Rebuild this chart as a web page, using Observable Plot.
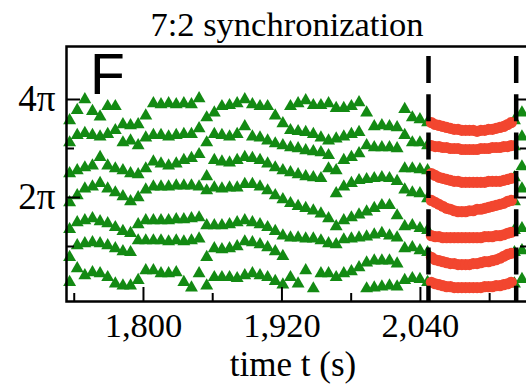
<!DOCTYPE html>
<html><head><meta charset="utf-8">
<script src="https://cdn.jsdelivr.net/npm/d3@7"></script>
<script src="https://cdn.jsdelivr.net/npm/@observablehq/plot@0.6"></script>
<style>html,body{margin:0;padding:0;overflow:hidden;background:#fff;width:526px;height:384px}svg{max-width:none !important}</style>
</head><body><div id="chart"></div>
<script>
const title = "7:2 synchronization";
const panelLetter = "F";
const xLabel = "time t (s)";
const xMajorTicks = [1800, 1920, 2040];
const xMinorTicks = [1740, 1860, 1980, 2100];
const yMajorTicks = [2, 4];      // phase in units of π
const yMinorTicks = [1, 3];
const syncWindow = [2047, 2123]; // dashed boundaries (s)

// green triangles: 7 phase bands (units of π), sampled from 1736 s every 6.6 s, plus two late samples
const greenStart = 1736, greenStep = 6.6;
const greenLateTimes = [2121.5, 2128];
const green1 = [3.57,3.78,4.00,3.76,3.65,3.86,3.86,3.49,3.47,3.49,3.67,3.92,3.90,3.92,3.90,3.92,3.90,4.02,3.63,3.73,3.86,3.88,3.92,4.00,3.90,3.86,3.86,3.67,3.51,3.86,3.92,3.98,3.88,3.88,3.92,3.82,3.82,3.86,3.94,3.73,3.45,3.47,3.45,3.43,3.80,3.63,3.59,3.53, 3.57,3.73];
const green2 = [3.12,3.27,3.31,3.27,3.24,3.29,3.37,3.12,3.16,3.06,3.22,3.27,3.27,3.24,3.27,3.29,3.29,3.41,3.12,3.29,3.27,3.24,3.29,3.45,3.24,3.22,3.16,3.10,3.06,3.37,3.35,3.33,3.29,3.22,3.16,3.20,3.24,3.29,3.33,3.06,3.02,3.02,3.02,3.00,3.27,3.12,3.12,3.06, 3.04,3.24];
const green3 = [2.49,2.55,2.61,2.65,2.82,2.65,2.59,2.55,2.49,2.47,2.59,2.73,2.69,2.65,2.69,2.76,2.80,2.88,2.43,2.76,2.73,2.71,2.76,2.82,2.80,2.76,2.69,2.61,2.55,3.02,3.00,2.96,2.94,2.92,2.86,2.55,2.76,2.82,2.90,2.37,2.39,2.41,2.39,2.33,2.59,2.59,2.57,2.55, 2.41,2.63];
const green4 = [1.90,2.04,2.18,2.22,2.29,2.18,2.10,2.02,1.92,2.00,2.16,2.22,2.22,2.22,2.24,2.24,2.24,2.22,2.14,2.20,2.18,2.20,2.20,2.27,2.27,2.22,2.14,2.04,1.96,2.51,2.47,2.43,2.41,2.39,2.59,2.08,2.22,2.29,2.35,1.71,1.78,1.84,1.84,1.63,2.16,2.10,2.08,1.98, 1.92,2.18];
const green5 = [1.35,1.49,1.53,1.57,1.51,1.47,1.39,1.31,1.27,1.45,1.53,1.53,1.53,1.53,1.55,1.55,1.57,1.59,1.43,1.43,1.43,1.45,1.49,1.53,1.49,1.45,1.39,1.31,1.22,1.88,1.82,1.78,1.73,1.67,1.57,1.41,1.53,1.59,1.65,1.20,1.24,1.27,1.22,1.18,1.41,1.43,1.37,1.33, 1.33,1.37];
const green6 = [0.78,1.02,1.06,1.08,1.06,1.02,0.96,0.90,0.88,1.12,1.12,1.12,1.12,1.10,1.12,1.10,1.12,1.16,0.78,0.96,0.94,0.96,1.00,1.10,1.08,1.04,0.98,0.90,0.80,1.18,1.18,1.16,1.16,1.12,1.06,1.04,1.14,1.16,1.18,0.67,0.71,0.71,0.71,0.65,0.96,0.98,0.92,0.88, 0.88,0.92];
const green7 = [0.27,0.55,0.41,0.47,0.45,0.37,0.24,0.20,0.20,0.31,0.51,0.51,0.45,0.45,0.47,0.27,0.16,0.45,0.20,0.37,0.37,0.37,0.35,0.41,0.45,0.41,0.37,0.29,0.22,0.37,0.24,0.51,0.14,0.45,0.45,0.37,0.45,0.49,0.57,0.14,0.16,0.18,0.20,0.18,0.31,0.35,0.33,0.27, 0.24,0.33];

// red circles: synchronized epoch, sampled from 2049.5 s every 3.3 s
const redStart = 2049.5, redStep = 3.3;
const red1 = [3.53,3.49,3.47,3.45,3.43,3.41,3.39,3.39,3.37,3.37,3.37,3.37,3.35,3.37,3.37,3.39,3.39,3.41,3.43,3.45,3.49,3.53];
const red2 = [3.06,3.04,3.04,3.02,3.02,3.00,3.00,3.00,2.98,2.98,2.98,2.98,2.98,3.00,3.00,3.00,3.02,3.02,3.02,3.04,3.04,3.06];
const red3 = [2.49,2.45,2.41,2.39,2.37,2.35,2.33,2.33,2.31,2.31,2.31,2.31,2.31,2.31,2.31,2.33,2.33,2.33,2.33,2.35,2.37,2.39];
const red4 = [1.94,1.90,1.86,1.82,1.78,1.76,1.73,1.71,1.71,1.71,1.73,1.73,1.76,1.76,1.78,1.80,1.82,1.84,1.86,1.88,1.92,1.94];
const red5 = [1.22,1.20,1.20,1.18,1.18,1.18,1.18,1.18,1.18,1.18,1.18,1.18,1.18,1.18,1.20,1.20,1.20,1.22,1.22,1.24,1.27,1.29];
const red6 = [0.78,0.73,0.71,0.69,0.67,0.65,0.65,0.63,0.63,0.63,0.63,0.65,0.65,0.67,0.69,0.69,0.71,0.73,0.76,0.80,0.84,0.86];
const red7 = [0.27,0.24,0.22,0.20,0.18,0.18,0.16,0.16,0.16,0.16,0.16,0.16,0.16,0.16,0.18,0.18,0.18,0.20,0.20,0.22,0.24,0.27];

const greenBands = [green1, green2, green3, green4, green5, green6, green7];
const redBands = [red1, red2, red3, red4, red5, red6, red7];
const nGrid = green1.length - greenLateTimes.length;
const greenTime = i => i < nGrid ? greenStart + i * greenStep : greenLateTimes[i - nGrid];

const greenData = greenBands.flatMap(b => b.map((v, i) => ({t: greenTime(i), phase: v})));
const redData = redBands.flatMap(b => b.map((v, i) => ({t: redStart + i * redStep, phase: v})));

const GREEN = "#138a13", RED = "#f2462f";
const serif = "Liberation Serif, Times New Roman, serif";

const chart = Plot.plot({
  width: 540, height: 384,
  marginLeft: 66, marginRight: 13, marginTop: 46, marginBottom: 83,
  style: {fontFamily: serif, background: "#fff", maxWidth: "none"},
  x: {domain: [1733.3, 2132.8]},
  y: {domain: [-0.1224, 5.0816]},
  marks: [
    Plot.dot(greenData, {x: "t", y: "phase", symbol: "triangle", r: 4.8, fill: GREEN}),
    Plot.dot(redData, {x: "t", y: "phase", r: 5.6, fill: RED}),
    Plot.ruleX(syncWindow, {stroke: "#000", strokeWidth: 4.5, strokeDasharray: "27,11.3", strokeDashoffset: 28.3}),
    Plot.frame({stroke: "#000", strokeWidth: 2.5}),
    Plot.axisX({ticks: xMajorTicks, tickSize: 0, tickPadding: 11, tickFormat: d3.format(","), fontSize: 34.5, label: null, fill: "#000"}),
    Plot.axisX({ticks: xMajorTicks, tickSize: -14, fill: "none", label: null, strokeWidth: 2}),
    Plot.axisX({ticks: xMinorTicks, tickSize: -8, fill: "none", label: null, strokeWidth: 2}),
    Plot.axisY({ticks: yMajorTicks, tickSize: 0, tickPadding: 11, tickFormat: d => `${d}π`, fontSize: 37, label: null, fill: "#000"}),
    Plot.axisY({ticks: yMajorTicks, tickSize: -14, fill: "none", label: null, strokeWidth: 2}),
    Plot.axisY({ticks: yMinorTicks, tickSize: -8, fill: "none", label: null, strokeWidth: 2}),
    Plot.axisY({anchor: "right", ticks: yMajorTicks, tickSize: -14, fill: "none", label: null, strokeWidth: 2}),
    Plot.axisY({anchor: "right", ticks: yMinorTicks, tickSize: -8, fill: "none", label: null, strokeWidth: 2}),
    Plot.text([title], {frameAnchor: "top", dx: -10, dy: -11, lineAnchor: "bottom", fontSize: 34.5, fill: "#000"}),
    Plot.text([xLabel], {frameAnchor: "bottom", dx: -4, dy: 74, lineAnchor: "bottom", fontSize: 35, fill: "#000"}),
    Plot.text([panelLetter], {frameAnchor: "top-left", dx: 23.5, dy: 47, lineAnchor: "bottom", textAnchor: "start", fontSize: 57, fontFamily: "Liberation Sans, Arial, sans-serif", fill: "#000"})
  ]
});
document.getElementById("chart").appendChild(chart);
</script>
</body></html>
